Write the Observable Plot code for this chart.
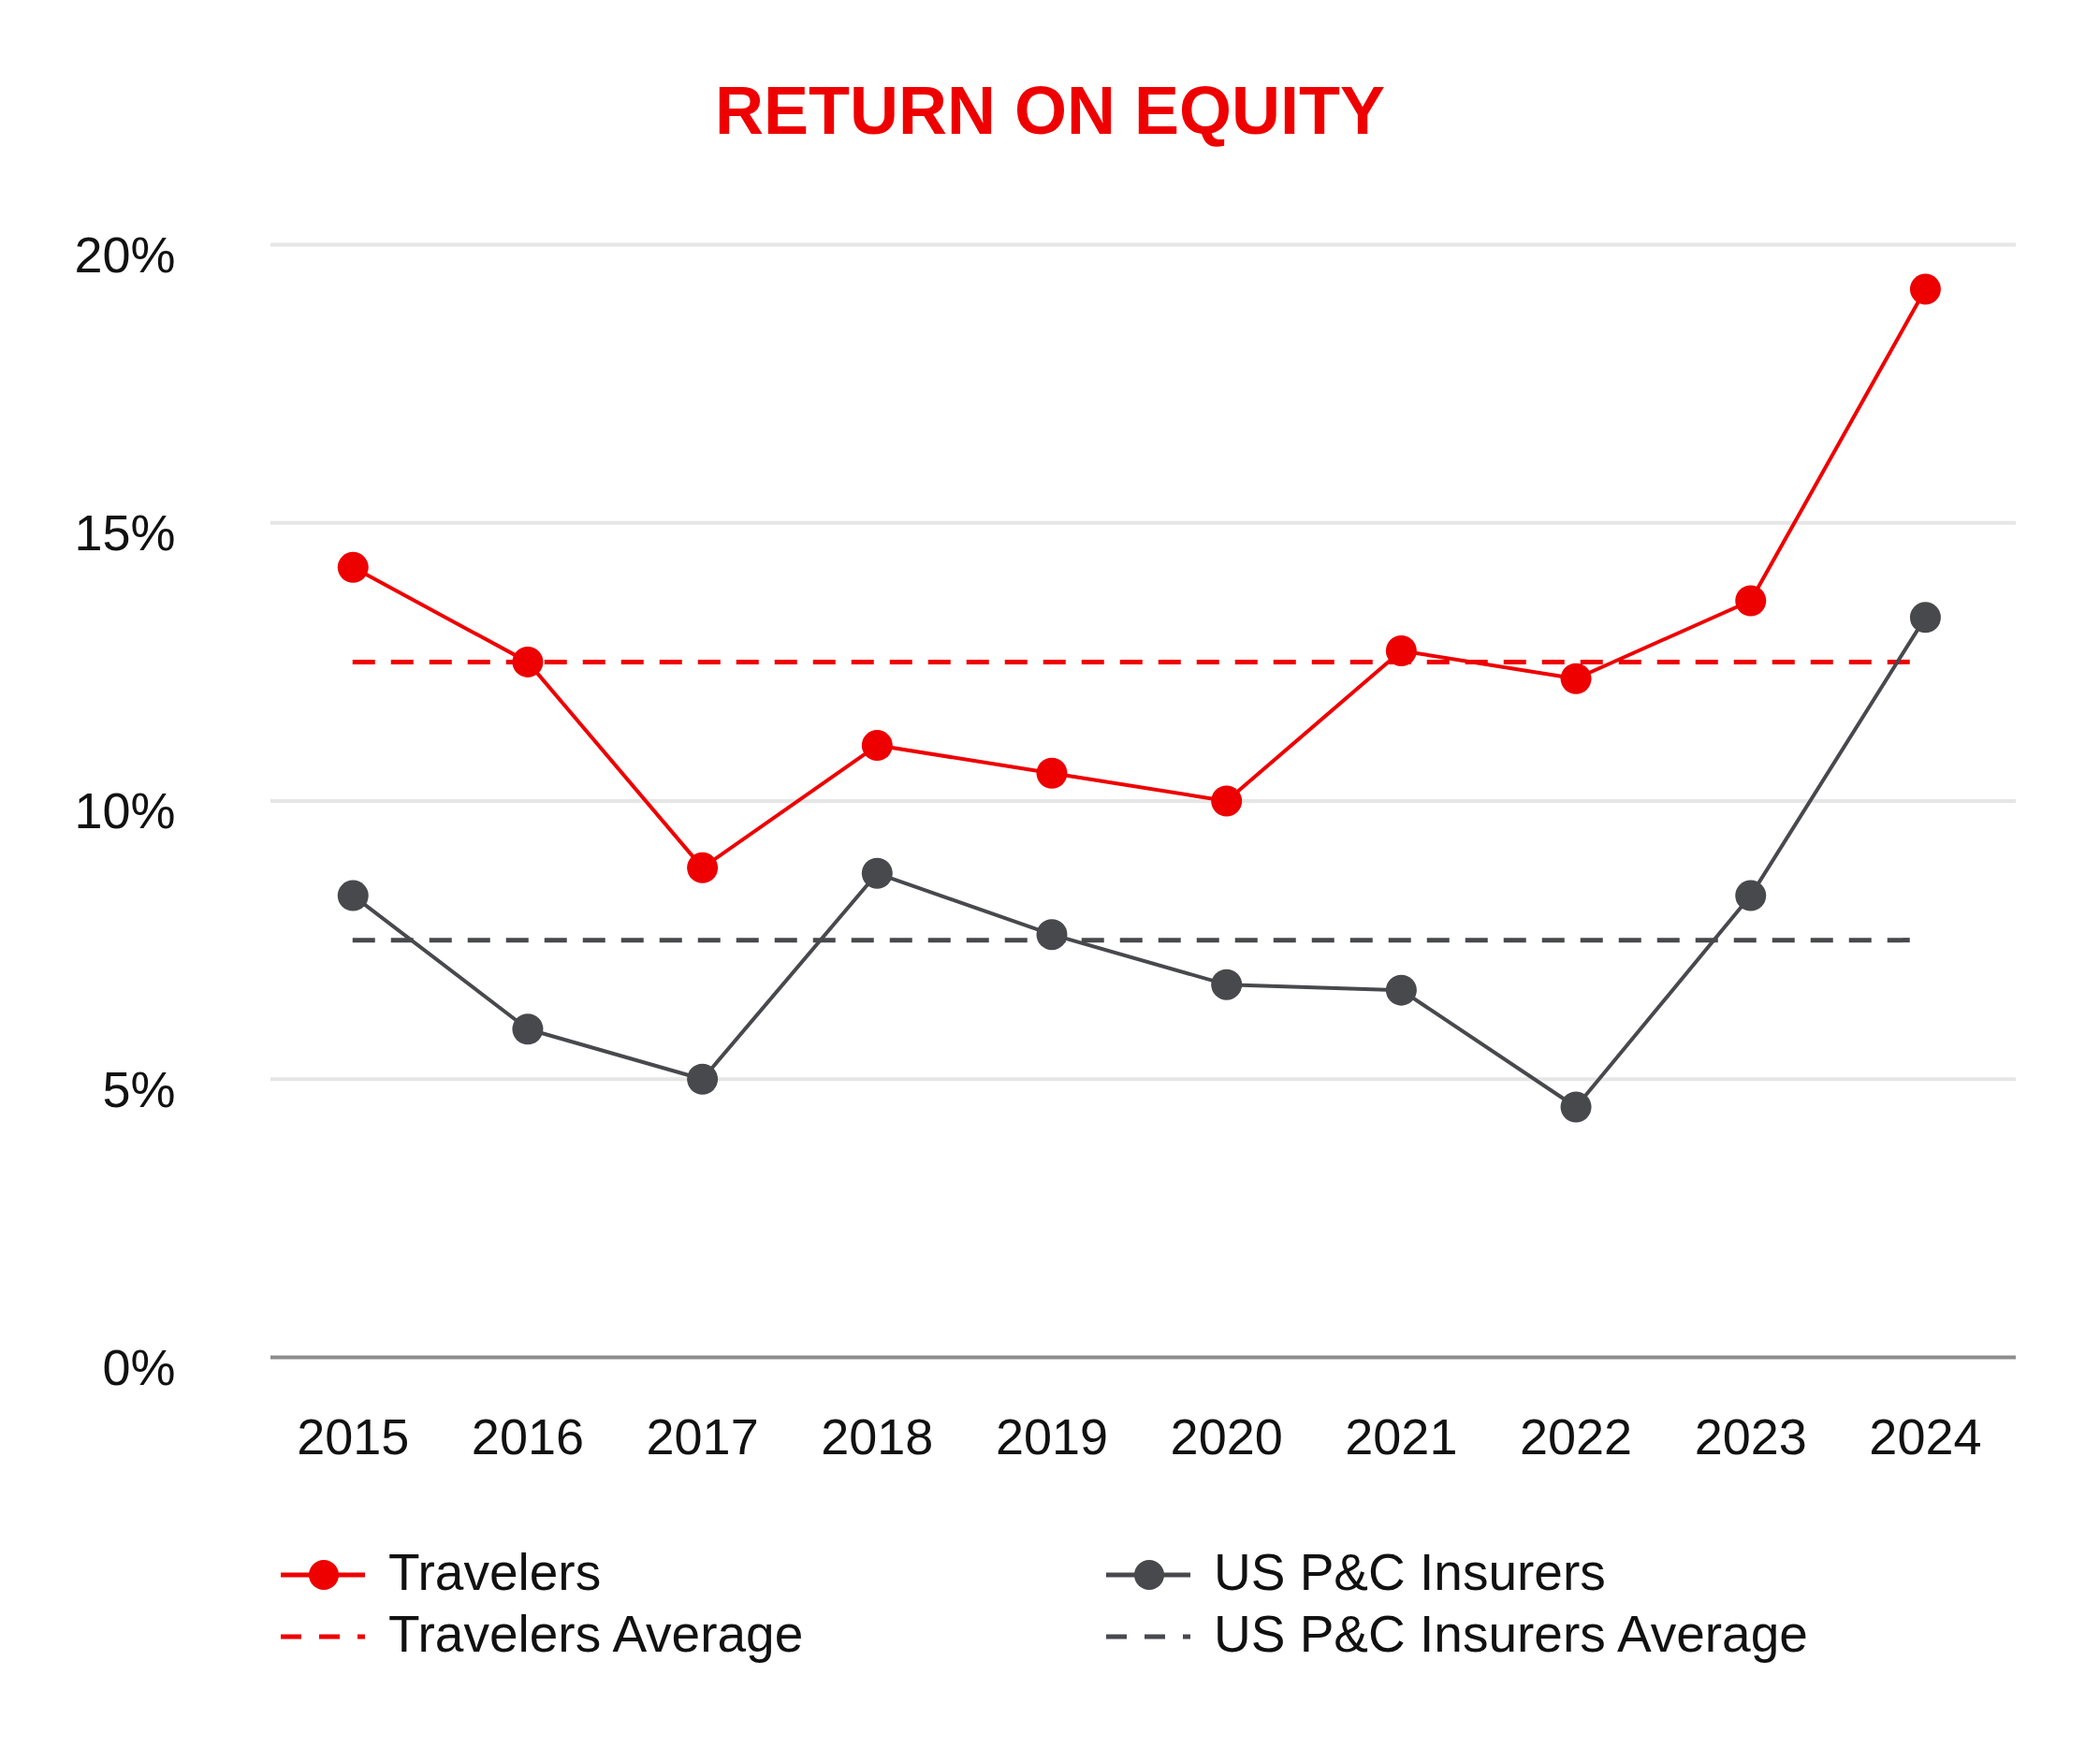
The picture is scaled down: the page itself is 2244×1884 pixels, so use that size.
<!DOCTYPE html>
<html>
<head>
<meta charset="utf-8">
<script src="https://cdn.jsdelivr.net/npm/d3@7"></script>
<script src="https://cdn.jsdelivr.net/npm/@observablehq/plot@0.6"></script>
<style>
  html, body { margin: 0; padding: 0; background: #fff; }
  body { width: 2244px; height: 1884px; position: relative; overflow: hidden; font-family: "Liberation Sans", Arial, sans-serif; }
  #title { position: absolute; left: 0; top: 82px; width: 2244px; text-align: center; font-size: 72px; line-height: 72px; font-weight: 700; color: #ee0000; }
  #chart { position: absolute; left: 0; top: 180px; }
  .leg { position: absolute; font-size: 55px; line-height: 55px; color: #111; white-space: nowrap; }
  .sym { position: absolute; }
</style>
</head>
<body>
<div id="title">RETURN ON EQUITY</div>
<div id="chart"></div>
<div id="legend"></div>
<script>
const years = [2015, 2016, 2017, 2018, 2019, 2020, 2021, 2022, 2023, 2024];
const travelers = [14.2, 12.5, 8.8, 11.0, 10.5, 10.0, 12.7, 12.2, 13.6, 19.2];
const usPC = [8.3, 5.9, 5.0, 8.7, 7.6, 6.7, 6.6, 4.5, 8.3, 13.3];
const travelersAvg = [12.5];
const usPCAvg = [7.5];
const yTicks = [0, 5, 10, 15, 20];
const gridTicks = [5, 10, 15, 20];
const seriesNames = ["Travelers", "US P&C Insurers", "Travelers Average", "US P&C Insurers Average"];

const RED = "#ee0000";
const GRAY = "#48494d";

const trav = years.map((y, i) => ({year: y, value: travelers[i]}));
const us = years.map((y, i) => ({year: y, value: usPC[i]}));

const plot = Plot.plot({
  width: 2244,
  height: 1420,
  marginTop: 81,
  marginBottom: 150,
  marginLeft: 289,
  marginRight: 90,
  style: { fontFamily: "'Liberation Sans', Arial, sans-serif", fontSize: "54px", color: "#111", background: "transparent" },
  x: { type: "linear", domain: [2014.53, 2024.52], label: null },
  y: { domain: [0, 20], label: null },
  marks: [
    Plot.ruleY(gridTicks, { stroke: "#e6e6e6", strokeWidth: 4 }),
    Plot.ruleY([0], { stroke: "#8c8c8c", strokeWidth: 4 }),
    Plot.axisY(yTicks, { tickSize: 0, tickPadding: 102, tickFormat: d => d + "%", dy: 12, fontSize: 54, label: null }),
    Plot.axisX(years, { tickSize: 0, tickPadding: 65, tickFormat: d => String(d), fontSize: 54, label: null }),
    Plot.ruleY(travelersAvg, { x1: years[0], x2: years[years.length - 1], stroke: RED, strokeWidth: 5, strokeDasharray: "24,17" }),
    Plot.ruleY(usPCAvg, { x1: years[0], x2: years[years.length - 1], stroke: GRAY, strokeWidth: 5, strokeDasharray: "24,17" }),
    Plot.line(us, { x: "year", y: "value", stroke: GRAY, strokeWidth: 4 }),
    Plot.dot(us, { x: "year", y: "value", r: 16.5, fill: GRAY, stroke: "none" }),
    Plot.line(trav, { x: "year", y: "value", stroke: RED, strokeWidth: 4 }),
    Plot.dot(trav, { x: "year", y: "value", r: 16.5, fill: RED, stroke: "none" })
  ]
});
document.getElementById("chart").appendChild(plot);

// Legend (HTML + small inline SVG symbols)
const legendItems = [
  { name: seriesNames[0], color: RED, dashed: false, left: 300, cy: 1683 },
  { name: seriesNames[2], color: RED, dashed: true, left: 300, cy: 1749 },
  { name: seriesNames[1], color: GRAY, dashed: false, left: 1182, cy: 1683 },
  { name: seriesNames[3], color: GRAY, dashed: true, left: 1182, cy: 1749 }
];
const legend = document.getElementById("legend");
const NS = "http://www.w3.org/2000/svg";
for (const it of legendItems) {
  const svg = document.createElementNS(NS, "svg");
  svg.setAttribute("width", 90);
  svg.setAttribute("height", 40);
  svg.setAttribute("class", "sym");
  svg.style.left = it.left + "px";
  svg.style.top = (it.cy - 20) + "px";
  const ln = document.createElementNS(NS, "line");
  ln.setAttribute("x1", 0); ln.setAttribute("x2", 90);
  ln.setAttribute("y1", 20); ln.setAttribute("y2", 20);
  ln.setAttribute("stroke", it.color);
  ln.setAttribute("stroke-width", 5);
  if (it.dashed) ln.setAttribute("stroke-dasharray", "22,19");
  svg.appendChild(ln);
  if (!it.dashed) {
    const c = document.createElementNS(NS, "circle");
    c.setAttribute("cx", 46); c.setAttribute("cy", 20); c.setAttribute("r", 16);
    c.setAttribute("fill", it.color);
    svg.appendChild(c);
  }
  legend.appendChild(svg);
  const t = document.createElement("div");
  t.className = "leg";
  t.textContent = it.name;
  t.style.left = (it.left + 115) + "px";
  t.style.top = (it.cy - 30) + "px";
  legend.appendChild(t);
}
</script>
</body>
</html>
